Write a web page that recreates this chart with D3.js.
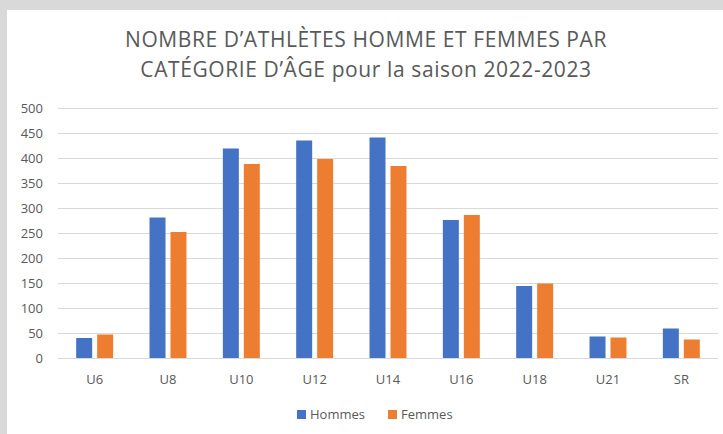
<!DOCTYPE html>
<html lang="fr">
<head>
  <meta charset="utf-8">
  <style>
    body {
      margin: 0;
      padding: 0;
      background: #d9d9d9;
    }

    svg text {
      font-family: "Open Sans", "Noto Sans", sans-serif;
      fill: #595959;
    }
  </style>
</head>
<body>
  <svg width="723" height="434" style="position:absolute;left:0;top:0"></svg>
  <script src="https://d3js.org/d3.v7.min.js"></script>
  <script>
    var categories = ["U6", "U8", "U10", "U12", "U14", "U16", "U18", "U21", "SR"];
    var hommes = [40, 281, 419, 435, 441, 276, 144, 43, 59];
    var femmes = [47, 252, 388, 398, 384, 286, 149, 41, 37];
    var seriesNames = ["Hommes", "Femmes"];
    var yTicks = [0, 50, 100, 150, 200, 250, 300, 350, 400, 450, 500];
    var titleLines = ["NOMBRE D\u2019ATHLÈTES HOMME ET FEMMES PAR", "CATÉGORIE D\u2019ÂGE pour la saison 2022-2023"];

    var svg = d3.select("svg");

    // gray frame behind the white chart area
    svg.append("rect").attr("width", 723).attr("height", 434).attr("fill", "#d9d9d9");
    svg.append("rect").attr("x", 7).attr("y", 10).attr("width", 716).attr("height", 424).attr("fill", "#fff");

    var margin = { left: 58, right: 5, top: 108, bottom: 76 };
    var width = 723 - margin.left - margin.right,
      height = 434 - margin.top - margin.bottom;

    var g = svg.append("g").attr("transform", "translate(" + margin.left + "," + margin.top + ")");

    var x = d3.scaleBand().domain(categories).range([0, width]);
    var y = d3.scaleLinear().domain([0, 500]).range([height, 0]);
    var color = d3.scaleOrdinal().domain(seriesNames).range(["#4472c4", "#ed7d31"]);

    var data = categories.map(function(c, i) {
      return { cat: c, Hommes: hommes[i], Femmes: femmes[i] };
    });

    // bars inside each band: ~16px wide, ~5px gap
    var barW = x.bandwidth() * 0.218;
    var gap = x.bandwidth() * 0.068;
    var x1 = function(key) {
      var group = barW * 2 + gap;
      var start = (x.bandwidth() - group) / 2;
      return start + (key === "Hommes" ? 0 : barW + gap);
    };

    // gridlines
    g.append("g")
      .selectAll("line")
      .data(yTicks)
      .enter().append("line")
      .attr("x1", 0)
      .attr("x2", width)
      .attr("y1", function(d) { return Math.round(y(d)) + 0.5; })
      .attr("y2", function(d) { return Math.round(y(d)) + 0.5; })
      .attr("stroke", "#d9d9d9")
      .attr("stroke-width", 1);

    // y labels
    g.append("g")
      .selectAll("text")
      .data(yTicks)
      .enter().append("text")
      .attr("x", -15)
      .attr("y", function(d) { return y(d); })
      .attr("dy", "0.35em")
      .attr("text-anchor", "end")
      .style("font-size", "13px")
      .text(function(d) { return d; });

    // bars
    g.append("g")
      .selectAll("g")
      .data(data)
      .enter().append("g")
      .attr("transform", function(d) { return "translate(" + x(d.cat) + ",0)"; })
      .selectAll("rect")
      .data(function(d) { return seriesNames.map(function(k) { return { key: k, value: d[k] }; }); })
      .enter().append("rect")
      .attr("x", function(d) { return x1(d.key); })
      .attr("y", function(d) { return y(d.value); })
      .attr("width", barW)
      .attr("height", function(d) { return y(0) - y(d.value); })
      .attr("fill", function(d) { return color(d.key); });

    // x labels
    g.append("g")
      .selectAll("text")
      .data(categories)
      .enter().append("text")
      .attr("x", function(d) { return x(d) + x.bandwidth() / 2; })
      .attr("y", height + 26)
      .attr("text-anchor", "middle")
      .style("font-size", "13px")
      .text(function(d) { return d; });

    // title
    svg.append("g")
      .selectAll("text")
      .data(titleLines)
      .enter().append("text")
      .attr("x", 366)
      .attr("y", function(d, i) { return 47 + i * 30; })
      .attr("text-anchor", "middle")
      .style("font-size", "21px")
      .style("letter-spacing", "0.6px")
      .text(function(d) { return d; });

    // legend
    var legend = svg.append("g")
      .selectAll("g")
      .data(seriesNames)
      .enter().append("g")
      .attr("transform", function(d, i) { return "translate(" + (297 + i * 91) + ",410)"; });

    legend.append("rect")
      .attr("width", 9)
      .attr("height", 9)
      .attr("fill", color);

    legend.append("text")
      .attr("x", 13)
      .attr("y", 4.5)
      .attr("dy", "0.35em")
      .style("font-size", "13px")
      .text(function(d) { return d; });
  </script>
</body>
</html>
